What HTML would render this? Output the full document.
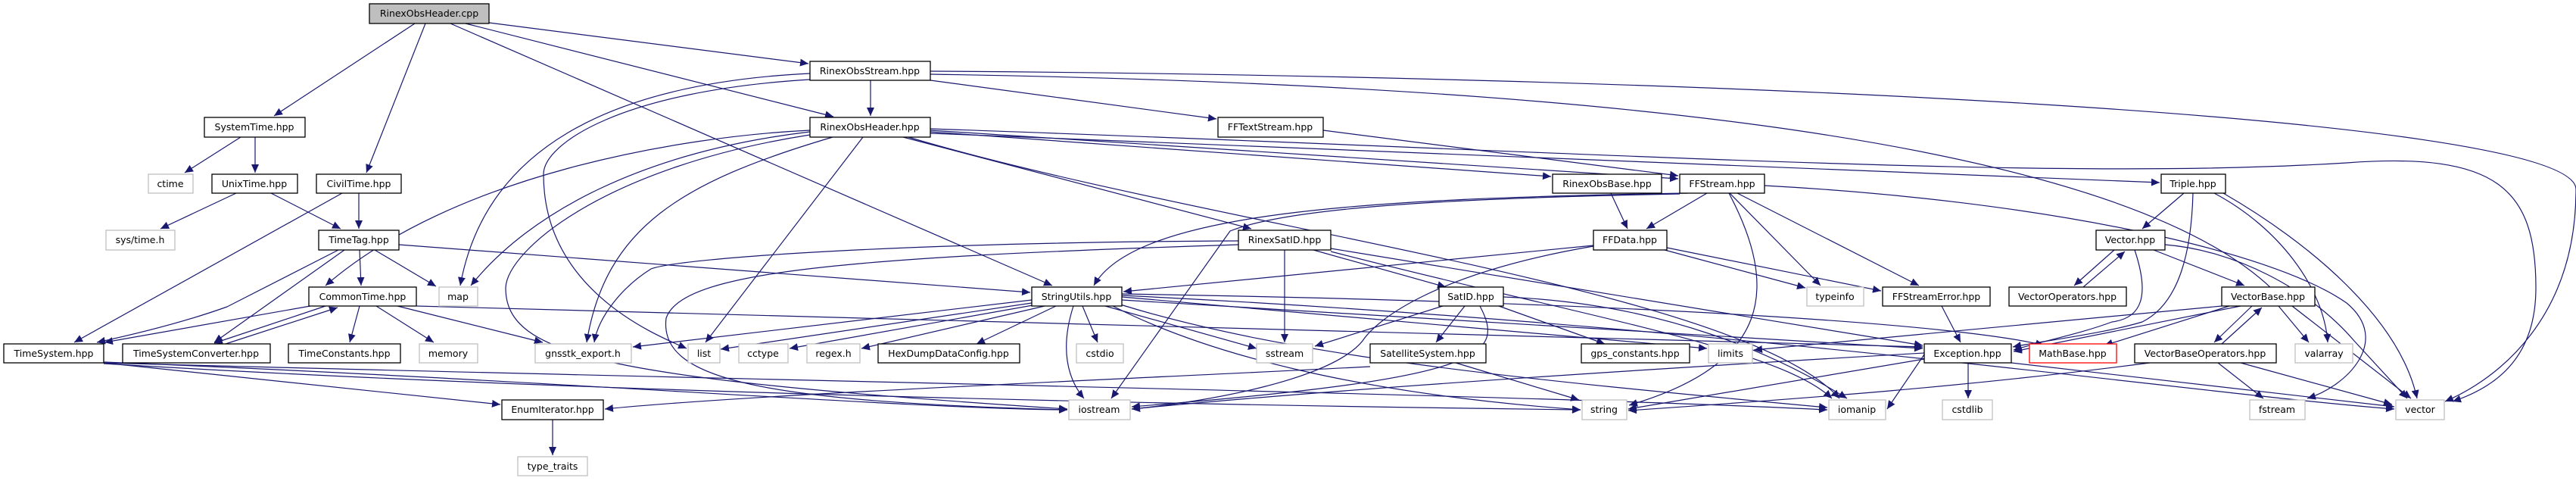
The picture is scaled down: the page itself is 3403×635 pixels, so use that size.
<!DOCTYPE html>
<html><head><meta charset="utf-8"><style>
html,body{margin:0;padding:0;background:#fff;}
svg{display:block;}
text{font-family:"DejaVu Sans","Liberation Sans",sans-serif;font-size:12.5px;text-anchor:middle;fill:#000;}
.e{fill:none;stroke:#191970;stroke-width:1.2;marker-end:url(#a);}
.n rect{fill:#fff;stroke:#000;stroke-width:1.3;}
.s rect{fill:#fff;stroke:#bfbfbf;stroke-width:1.3;}
</style></head><body>
<svg width="3403" height="635" viewBox="0 0 3403 635" xmlns="http://www.w3.org/2000/svg">
<defs><marker id="a" markerUnits="userSpaceOnUse" markerWidth="12" markerHeight="10" refX="11" refY="5" orient="auto"><path d="M0,0 L11,5 L0,10 z" fill="#191970"/></marker></defs>
<g>
<path class="e" d="M548,31 L362,153"/>
<path class="e" d="M562,31 L484,228"/>
<path class="e" d="M646,30 L1068,84"/>
<path class="e" d="M615,31 L1101,154"/>
<path class="e" d="M595,31 L1390,377"/>
<path class="e" d="M318,181 L244,228"/>
<path class="e" d="M337,181 L337,228"/>
<path class="e" d="M312,255 L212,302"/>
<path class="e" d="M358,255 L450,302"/>
<path class="e" d="M474,255 L474,302"/>
<path class="e" d="M452,255 L98,452"/>
<path class="e" d="M475,330 L477,377"/>
<path class="e" d="M495,330 L576,378"/>
<path class="e" d="M447,330 Q330,390 300,405 Q230,430 128,452"/>
<path class="e" d="M455,330 L283,452"/>
<path class="e" d="M527,323 L1361,386"/>
<path class="e" d="M410,404 L138,452"/>
<path class="e" d="M430,404 L283,453"/>
<path class="e" d="M298,454 L446,406"/>
<path class="e" d="M475,404 L462,452"/>
<path class="e" d="M497,404 L573,452"/>
<path class="e" d="M525,404 L717,452"/>
<path class="e" d="M550,404 L2540,458"/>
<path class="e" d="M137,479 L661,534"/>
<path class="e" d="M137,478 C700,500 1200,540 1410,541"/>
<path class="e" d="M137,480 C800,520 1600,535 2088,541"/>
<path class="e" d="M137,479 C900,500 2000,520 2414,541"/>
<path class="e" d="M730,554 L730,601"/>
<path class="e" d="M1150,106 L1150,153"/>
<path class="e" d="M1229,106 L1607,157"/>
<path class="e" d="M1070,97 C800,110 640,200 608,377"/>
<path class="e" d="M1070,105 C820,120 718,190 718,230 C718,380 860,440 907,460"/>
<path class="e" d="M1229,94 C2200,100 3403,150 3403,250 C3403,420 3300,500 3230,530"/>
<path class="e" d="M1229,98 C2000,110 2800,170 3010,390 L3185,526"/>
<path class="e" d="M1070,172 C900,180 600,230 430,377"/>
<path class="e" d="M1070,174 C850,200 700,280 622,377"/>
<path class="e" d="M1140,181 L932,452"/>
<path class="e" d="M1100,181 C900,240 800,300 775,452"/>
<path class="e" d="M1070,178 C800,220 670,330 668,380 C668,470 800,500 1410,540"/>
<path class="e" d="M1193,181 L1653,302"/>
<path class="e" d="M1229,172 L2217,236"/>
<path class="e" d="M1229,174 L2049,233"/>
<path class="e" d="M1229,176 L2853,241"/>
<path class="e" d="M1229,170 C2100,200 2700,240 3100,215 C3300,200 3350,250 3350,380 C3350,470 3300,510 3240,530"/>
<path class="e" d="M1200,181 C1600,300 2300,380 2430,526"/>
<path class="e" d="M1748,172 L2217,232"/>
<path class="e" d="M2230,255 C1800,262 1500,280 1445,377"/>
<path class="e" d="M2255,255 L2175,302"/>
<path class="e" d="M2285,255 L2405,377"/>
<path class="e" d="M2295,255 L2535,377"/>
<path class="e" d="M2284,255 C2350,380 2340,480 2152,535"/>
<path class="e" d="M2331,245 C2700,265 3000,330 3100,400 C3160,450 3100,510 3048,526"/>
<path class="e" d="M2219,256 C1900,262 1700,275 1625,305 L1468,526"/>
<path class="e" d="M2128,255 L2150,302"/>
<path class="e" d="M2105,324 L1484,385"/>
<path class="e" d="M2105,325 C1900,360 1820,420 1800,450 C1760,500 1600,530 1495,540"/>
<path class="e" d="M2199,330 L2385,380"/>
<path class="e" d="M2202,327 L2485,384"/>
<path class="e" d="M1697,330 L1697,452"/>
<path class="e" d="M1735,330 L1910,379"/>
<path class="e" d="M1636,318 C1200,320 900,340 860,355 C820,380 790,420 785,452"/>
<path class="e" d="M1636,323 C1100,340 900,360 880,420 C870,500 1000,530 1410,541"/>
<path class="e" d="M1758,328 L2540,456"/>
<path class="e" d="M1758,332 C2100,420 2350,460 2420,526"/>
<path class="e" d="M1906,404 L1737,457"/>
<path class="e" d="M1935,404 L1897,452"/>
<path class="e" d="M1955,404 C1990,470 1960,500 1495,537"/>
<path class="e" d="M1980,404 L2120,454"/>
<path class="e" d="M1986,392 C2200,400 2350,470 2440,526"/>
<path class="e" d="M1923,479 L2086,528"/>
<path class="e" d="M1810,484 C1500,500 1000,520 799,540"/>
<path class="e" d="M1363,400 L952,461"/>
<path class="e" d="M1370,402 L1043,460"/>
<path class="e" d="M1380,404 L1138,460"/>
<path class="e" d="M1395,404 L1290,454"/>
<path class="e" d="M1430,404 L1450,452"/>
<path class="e" d="M1418,404 C1400,460 1410,500 1432,526"/>
<path class="e" d="M1460,404 L1660,460"/>
<path class="e" d="M1482,392 L2255,460"/>
<path class="e" d="M1482,396 L2540,460"/>
<path class="e" d="M1470,404 C1600,470 1800,520 2088,541"/>
<path class="e" d="M1480,402 C1700,470 2000,500 2414,538"/>
<path class="e" d="M1482,388 C2200,400 2600,430 2700,456"/>
<path class="e" d="M1482,390 C2300,430 2900,520 3163,540"/>
<path class="e" d="M1363,396 L836,458"/>
<path class="e" d="M2935,404 L2317,462"/>
<path class="e" d="M2600,479 L2600,526"/>
<path class="e" d="M2657,479 L3163,537"/>
<path class="e" d="M2542,474 L2151,540"/>
<path class="e" d="M2542,468 L2493,540"/>
<path class="e" d="M2542,466 C2300,480 1800,510 1495,540"/>
<path class="e" d="M2565,404 L2590,452"/>
<path class="e" d="M2885,255 L2830,302"/>
<path class="e" d="M2897,255 C2895,330 2880,400 2830,425 C2780,440 2700,450 2659,458"/>
<path class="e" d="M2925,255 C3010,300 3070,380 3075,452"/>
<path class="e" d="M2937,255 C3050,320 3170,420 3193,526"/>
<path class="e" d="M2793,330 L2740,377"/>
<path class="e" d="M2752,379 L2807,332"/>
<path class="e" d="M2845,330 L2965,377"/>
<path class="e" d="M2820,330 C2840,390 2830,420 2790,425 C2750,440 2700,450 2660,462"/>
<path class="e" d="M2860,323 C2950,330 3050,380 3110,450 L3180,526"/>
<path class="e" d="M2945,404 L2780,456"/>
<path class="e" d="M2975,404 L2925,452"/>
<path class="e" d="M2935,454 L2988,406"/>
<path class="e" d="M3010,404 L3050,452"/>
<path class="e" d="M2960,404 L2660,464"/>
<path class="e" d="M2930,479 L2990,526"/>
<path class="e" d="M2960,479 L3160,534"/>
<path class="e" d="M2840,479 C2600,510 2400,525 2151,542"/>
</g>
<g class="n"><rect x="488" y="5" width="158" height="26" style="fill:#bfbfbf"/><text x="567" y="22">RinexObsHeader.cpp</text></g>
<g class="n"><rect x="270" y="155" width="133" height="26"/><text x="336" y="172">SystemTime.hpp</text></g>
<g class="s"><rect x="196" y="230" width="59" height="25"/><text x="225" y="247">ctime</text></g>
<g class="n"><rect x="280" y="230" width="113" height="25"/><text x="336" y="247">UnixTime.hpp</text></g>
<g class="n"><rect x="418" y="230" width="112" height="25"/><text x="474" y="247">CivilTime.hpp</text></g>
<g class="s"><rect x="140" y="304" width="91" height="26"/><text x="185" y="321">sys/time.h</text></g>
<g class="n"><rect x="421" y="304" width="106" height="26"/><text x="474" y="321">TimeTag.hpp</text></g>
<g class="n"><rect x="408" y="379" width="142" height="25"/><text x="479" y="396">CommonTime.hpp</text></g>
<g class="s"><rect x="580" y="379" width="51" height="25"/><text x="605" y="396">map</text></g>
<g class="n"><rect x="5" y="454" width="132" height="25"/><text x="71" y="471">TimeSystem.hpp</text></g>
<g class="n"><rect x="162" y="454" width="195" height="25"/><text x="259" y="471">TimeSystemConverter.hpp</text></g>
<g class="n"><rect x="381" y="454" width="148" height="25"/><text x="455" y="471">TimeConstants.hpp</text></g>
<g class="s"><rect x="554" y="454" width="77" height="25"/><text x="592" y="471">memory</text></g>
<g class="s"><rect x="707" y="454" width="127" height="25"/><text x="770" y="471">gnsstk_export.h</text></g>
<g class="n"><rect x="663" y="528" width="134" height="26"/><text x="730" y="545">EnumIterator.hpp</text></g>
<g class="s"><rect x="684" y="603" width="92" height="25"/><text x="730" y="620">type_traits</text></g>
<g class="n"><rect x="1070" y="81" width="159" height="25"/><text x="1149" y="98">RinexObsStream.hpp</text></g>
<g class="n"><rect x="1070" y="155" width="159" height="26"/><text x="1149" y="172">RinexObsHeader.hpp</text></g>
<g class="n"><rect x="1609" y="155" width="139" height="26"/><text x="1678" y="172">FFTextStream.hpp</text></g>
<g class="n"><rect x="1636" y="304" width="122" height="26"/><text x="1697" y="321">RinexSatID.hpp</text></g>
<g class="n"><rect x="1363" y="379" width="119" height="25"/><text x="1422" y="396">StringUtils.hpp</text></g>
<g class="s"><rect x="909" y="454" width="42" height="25"/><text x="930" y="471">list</text></g>
<g class="s"><rect x="976" y="454" width="65" height="25"/><text x="1008" y="471">cctype</text></g>
<g class="s"><rect x="1066" y="454" width="70" height="25"/><text x="1101" y="471">regex.h</text></g>
<g class="n"><rect x="1160" y="454" width="187" height="25"/><text x="1253" y="471">HexDumpDataConfig.hpp</text></g>
<g class="s"><rect x="1422" y="454" width="62" height="25"/><text x="1453" y="471">cstdio</text></g>
<g class="s"><rect x="1660" y="454" width="74" height="25"/><text x="1697" y="471">sstream</text></g>
<g class="s"><rect x="1412" y="528" width="81" height="26"/><text x="1452" y="545">iostream</text></g>
<g class="n"><rect x="2051" y="230" width="144" height="25"/><text x="2123" y="247">RinexObsBase.hpp</text></g>
<g class="n"><rect x="2219" y="230" width="112" height="25"/><text x="2275" y="247">FFStream.hpp</text></g>
<g class="n"><rect x="2105" y="304" width="97" height="26"/><text x="2153" y="321">FFData.hpp</text></g>
<g class="n"><rect x="1901" y="379" width="85" height="25"/><text x="1943" y="396">SatID.hpp</text></g>
<g class="s"><rect x="2387" y="379" width="75" height="25"/><text x="2424" y="396">typeinfo</text></g>
<g class="n"><rect x="2487" y="379" width="142" height="25"/><text x="2558" y="396">FFStreamError.hpp</text></g>
<g class="n"><rect x="1810" y="454" width="153" height="25"/><text x="1886" y="471">SatelliteSystem.hpp</text></g>
<g class="n"><rect x="2089" y="454" width="143" height="25"/><text x="2160" y="471">gps_constants.hpp</text></g>
<g class="s"><rect x="2257" y="454" width="58" height="25"/><text x="2286" y="471">limits</text></g>
<g class="n"><rect x="2542" y="454" width="115" height="25"/><text x="2599" y="471">Exception.hpp</text></g>
<g class="s"><rect x="2090" y="528" width="59" height="26"/><text x="2119" y="545">string</text></g>
<g class="s"><rect x="2416" y="528" width="75" height="26"/><text x="2453" y="545">iomanip</text></g>
<g class="n"><rect x="2855" y="230" width="85" height="25"/><text x="2897" y="247">Triple.hpp</text></g>
<g class="n"><rect x="2769" y="304" width="91" height="26"/><text x="2814" y="321">Vector.hpp</text></g>
<g class="n"><rect x="2654" y="379" width="155" height="25"/><text x="2731" y="396">VectorOperators.hpp</text></g>
<g class="n"><rect x="2935" y="379" width="123" height="25"/><text x="2996" y="396">VectorBase.hpp</text></g>
<g class="n"><rect x="2681" y="454" width="115" height="25" style="stroke:#ff0000"/><text x="2738" y="471">MathBase.hpp</text></g>
<g class="n"><rect x="2820" y="454" width="187" height="25"/><text x="2913" y="471">VectorBaseOperators.hpp</text></g>
<g class="s"><rect x="3032" y="454" width="76" height="25"/><text x="3070" y="471">valarray</text></g>
<g class="s"><rect x="2566" y="528" width="66" height="26"/><text x="2599" y="545">cstdlib</text></g>
<g class="s"><rect x="2972" y="528" width="73" height="26"/><text x="3008" y="545">fstream</text></g>
<g class="s"><rect x="3165" y="528" width="64" height="26"/><text x="3197" y="545">vector</text></g>
</svg>
</body></html>
